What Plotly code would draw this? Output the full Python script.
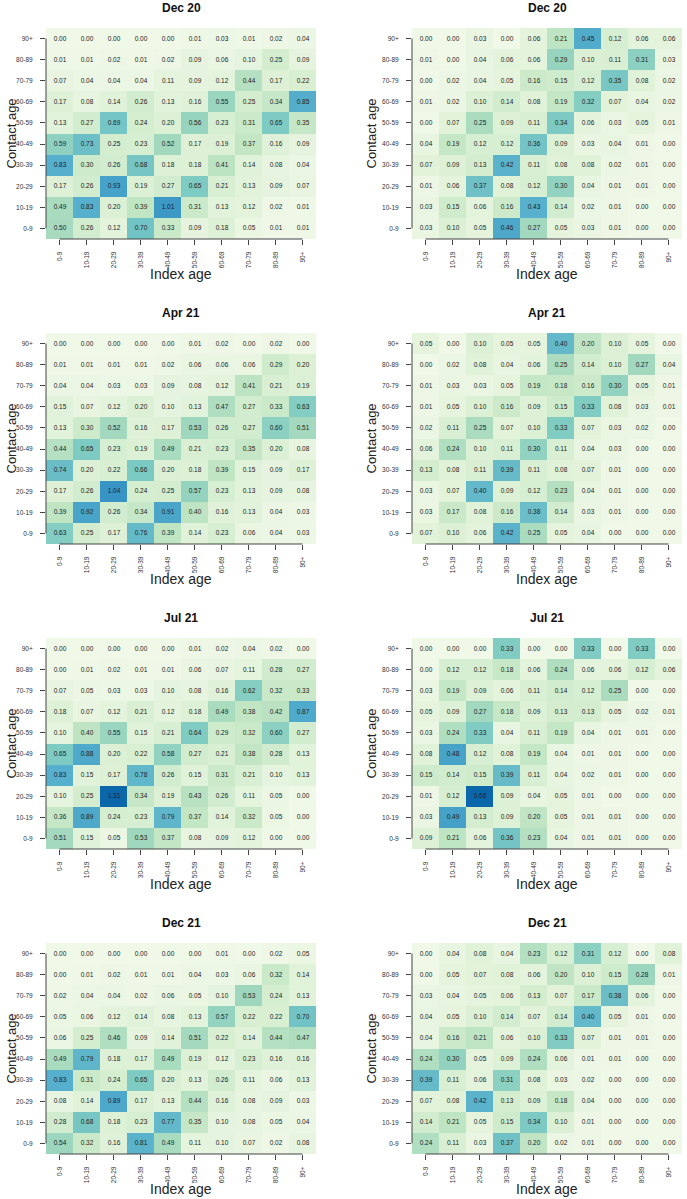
import plotly.graph_objects as go

age_groups = ["0-9", "10-19", "20-29", "30-39", "40-49", "50-59", "60-69", "70-79", "80-89", "90+"]
contact_rows = age_groups[::-1]  # rows below are listed top (90+) to bottom (0-9)
panel_titles = ["Dec 20", "Apr 21", "Jul 21", "Dec 21"]

dec20_left = [
    [0.00, 0.00, 0.00, 0.00, 0.00, 0.01, 0.03, 0.01, 0.02, 0.04],
    [0.01, 0.01, 0.02, 0.01, 0.02, 0.09, 0.06, 0.10, 0.25, 0.09],
    [0.07, 0.04, 0.04, 0.04, 0.11, 0.09, 0.12, 0.44, 0.17, 0.22],
    [0.17, 0.08, 0.14, 0.26, 0.13, 0.16, 0.55, 0.25, 0.34, 0.85],
    [0.13, 0.27, 0.69, 0.24, 0.20, 0.56, 0.23, 0.31, 0.65, 0.35],
    [0.59, 0.73, 0.25, 0.23, 0.52, 0.17, 0.19, 0.37, 0.16, 0.09],
    [0.83, 0.30, 0.26, 0.68, 0.18, 0.18, 0.41, 0.14, 0.08, 0.04],
    [0.17, 0.26, 0.93, 0.19, 0.27, 0.65, 0.21, 0.13, 0.09, 0.07],
    [0.49, 0.83, 0.20, 0.39, 1.01, 0.31, 0.13, 0.12, 0.02, 0.01],
    [0.50, 0.26, 0.12, 0.70, 0.33, 0.09, 0.18, 0.05, 0.01, 0.01],
]
dec20_right = [
    [0.00, 0.00, 0.03, 0.00, 0.06, 0.21, 0.45, 0.12, 0.06, 0.06],
    [0.01, 0.00, 0.04, 0.06, 0.06, 0.29, 0.10, 0.11, 0.31, 0.03],
    [0.00, 0.02, 0.04, 0.05, 0.16, 0.15, 0.12, 0.35, 0.08, 0.02],
    [0.01, 0.02, 0.10, 0.14, 0.08, 0.19, 0.32, 0.07, 0.04, 0.02],
    [0.00, 0.07, 0.25, 0.09, 0.11, 0.34, 0.06, 0.03, 0.05, 0.01],
    [0.04, 0.19, 0.12, 0.12, 0.36, 0.09, 0.03, 0.04, 0.01, 0.00],
    [0.07, 0.09, 0.13, 0.42, 0.11, 0.08, 0.08, 0.02, 0.01, 0.00],
    [0.01, 0.06, 0.37, 0.08, 0.12, 0.30, 0.04, 0.01, 0.01, 0.00],
    [0.03, 0.15, 0.06, 0.16, 0.43, 0.14, 0.02, 0.01, 0.00, 0.00],
    [0.03, 0.10, 0.05, 0.46, 0.27, 0.05, 0.03, 0.01, 0.00, 0.00],
]
apr21_left = [
    [0.00, 0.00, 0.00, 0.00, 0.00, 0.01, 0.02, 0.00, 0.02, 0.00],
    [0.01, 0.01, 0.01, 0.01, 0.02, 0.06, 0.06, 0.06, 0.29, 0.20],
    [0.04, 0.04, 0.03, 0.03, 0.09, 0.08, 0.12, 0.41, 0.21, 0.19],
    [0.15, 0.07, 0.12, 0.20, 0.10, 0.13, 0.47, 0.27, 0.33, 0.63],
    [0.13, 0.30, 0.52, 0.16, 0.17, 0.53, 0.26, 0.27, 0.60, 0.51],
    [0.44, 0.65, 0.23, 0.19, 0.49, 0.21, 0.23, 0.35, 0.20, 0.08],
    [0.74, 0.20, 0.22, 0.66, 0.20, 0.18, 0.39, 0.15, 0.09, 0.17],
    [0.17, 0.26, 1.04, 0.24, 0.25, 0.57, 0.23, 0.13, 0.09, 0.08],
    [0.39, 0.92, 0.26, 0.34, 0.91, 0.40, 0.16, 0.13, 0.04, 0.03],
    [0.63, 0.25, 0.17, 0.76, 0.39, 0.14, 0.23, 0.06, 0.04, 0.03],
]
apr21_right = [
    [0.05, 0.00, 0.10, 0.05, 0.05, 0.40, 0.20, 0.10, 0.05, 0.00],
    [0.00, 0.02, 0.08, 0.04, 0.06, 0.25, 0.14, 0.10, 0.27, 0.04],
    [0.01, 0.03, 0.03, 0.05, 0.19, 0.18, 0.16, 0.30, 0.05, 0.01],
    [0.01, 0.05, 0.10, 0.16, 0.09, 0.15, 0.33, 0.08, 0.03, 0.01],
    [0.02, 0.11, 0.25, 0.07, 0.10, 0.33, 0.07, 0.03, 0.02, 0.00],
    [0.06, 0.24, 0.10, 0.11, 0.30, 0.11, 0.04, 0.03, 0.00, 0.00],
    [0.13, 0.08, 0.11, 0.39, 0.11, 0.08, 0.07, 0.01, 0.00, 0.00],
    [0.03, 0.07, 0.40, 0.09, 0.12, 0.23, 0.04, 0.01, 0.00, 0.00],
    [0.03, 0.17, 0.08, 0.16, 0.38, 0.14, 0.03, 0.01, 0.00, 0.00],
    [0.07, 0.10, 0.06, 0.42, 0.25, 0.05, 0.04, 0.00, 0.00, 0.00],
]
jul21_left = [
    [0.00, 0.00, 0.00, 0.00, 0.00, 0.01, 0.02, 0.04, 0.02, 0.00],
    [0.00, 0.01, 0.02, 0.01, 0.01, 0.06, 0.07, 0.11, 0.28, 0.27],
    [0.07, 0.05, 0.03, 0.03, 0.10, 0.08, 0.16, 0.62, 0.32, 0.33],
    [0.18, 0.07, 0.12, 0.21, 0.12, 0.18, 0.49, 0.38, 0.42, 0.87],
    [0.10, 0.40, 0.55, 0.15, 0.21, 0.64, 0.29, 0.32, 0.60, 0.27],
    [0.65, 0.88, 0.20, 0.22, 0.58, 0.27, 0.21, 0.38, 0.28, 0.13],
    [0.83, 0.15, 0.17, 0.78, 0.26, 0.15, 0.31, 0.21, 0.10, 0.13],
    [0.10, 0.25, 1.31, 0.34, 0.19, 0.43, 0.26, 0.11, 0.05, 0.00],
    [0.36, 0.89, 0.24, 0.23, 0.79, 0.37, 0.14, 0.32, 0.05, 0.00],
    [0.51, 0.15, 0.05, 0.53, 0.37, 0.08, 0.09, 0.12, 0.00, 0.00],
]
jul21_right = [
    [0.00, 0.00, 0.00, 0.33, 0.00, 0.00, 0.33, 0.00, 0.33, 0.00],
    [0.00, 0.12, 0.12, 0.18, 0.06, 0.24, 0.06, 0.06, 0.12, 0.06],
    [0.03, 0.19, 0.09, 0.06, 0.11, 0.14, 0.12, 0.25, 0.00, 0.00],
    [0.05, 0.09, 0.27, 0.18, 0.09, 0.13, 0.13, 0.05, 0.02, 0.01],
    [0.03, 0.24, 0.33, 0.04, 0.11, 0.19, 0.04, 0.01, 0.01, 0.00],
    [0.08, 0.48, 0.12, 0.08, 0.19, 0.04, 0.01, 0.01, 0.00, 0.00],
    [0.15, 0.14, 0.15, 0.39, 0.11, 0.04, 0.02, 0.01, 0.00, 0.00],
    [0.01, 0.12, 0.68, 0.09, 0.04, 0.05, 0.01, 0.00, 0.00, 0.00],
    [0.03, 0.49, 0.13, 0.09, 0.20, 0.05, 0.01, 0.01, 0.00, 0.00],
    [0.09, 0.21, 0.06, 0.36, 0.23, 0.04, 0.01, 0.01, 0.00, 0.00],
]
dec21_left = [
    [0.00, 0.00, 0.00, 0.00, 0.00, 0.00, 0.01, 0.00, 0.02, 0.05],
    [0.00, 0.01, 0.02, 0.01, 0.01, 0.04, 0.03, 0.06, 0.32, 0.14],
    [0.02, 0.04, 0.04, 0.02, 0.06, 0.05, 0.10, 0.53, 0.24, 0.13],
    [0.05, 0.06, 0.12, 0.14, 0.08, 0.13, 0.57, 0.22, 0.22, 0.70],
    [0.06, 0.25, 0.46, 0.09, 0.14, 0.51, 0.22, 0.14, 0.44, 0.47],
    [0.49, 0.79, 0.18, 0.17, 0.49, 0.19, 0.12, 0.23, 0.16, 0.16],
    [0.83, 0.31, 0.24, 0.65, 0.20, 0.13, 0.26, 0.11, 0.06, 0.13],
    [0.08, 0.14, 0.89, 0.17, 0.13, 0.44, 0.16, 0.08, 0.09, 0.03],
    [0.28, 0.68, 0.18, 0.23, 0.77, 0.35, 0.10, 0.08, 0.05, 0.04],
    [0.54, 0.32, 0.16, 0.81, 0.49, 0.11, 0.10, 0.07, 0.02, 0.08],
]
dec21_right = [
    [0.00, 0.04, 0.08, 0.04, 0.23, 0.12, 0.31, 0.12, 0.00, 0.08],
    [0.00, 0.05, 0.07, 0.08, 0.06, 0.20, 0.10, 0.15, 0.28, 0.01],
    [0.03, 0.04, 0.05, 0.06, 0.13, 0.07, 0.17, 0.38, 0.06, 0.00],
    [0.04, 0.05, 0.10, 0.14, 0.07, 0.14, 0.40, 0.05, 0.01, 0.00],
    [0.04, 0.16, 0.21, 0.06, 0.10, 0.33, 0.07, 0.01, 0.01, 0.00],
    [0.24, 0.30, 0.05, 0.09, 0.24, 0.06, 0.01, 0.01, 0.00, 0.00],
    [0.39, 0.11, 0.06, 0.31, 0.08, 0.03, 0.02, 0.00, 0.00, 0.00],
    [0.07, 0.08, 0.42, 0.13, 0.09, 0.18, 0.04, 0.00, 0.00, 0.00],
    [0.14, 0.21, 0.05, 0.15, 0.34, 0.10, 0.01, 0.00, 0.00, 0.00],
    [0.24, 0.11, 0.03, 0.37, 0.20, 0.02, 0.01, 0.00, 0.00, 0.00],
]

left_panels = [dec20_left, apr21_left, jul21_left, dec21_left]
right_panels = [dec20_right, apr21_right, jul21_right, dec21_right]
column_zmax = [1.31, 0.68]

W, H = 687, 1199
FONT = "Liberation Sans, Arial, Helvetica, sans-serif"

colorscale = [
    [0.00, "#f0f8e8"],
    [0.15, "#dbf0d4"],
    [0.30, "#c0e5c3"],
    [0.40, "#a1d8be"],
    [0.50, "#7ccac3"],
    [0.63, "#57b0cc"],
    [0.70, "#49a4c9"],
    [0.80, "#3693c4"],
    [1.00, "#0b67aa"],
]

col_x = [(46, 316), (412, 682)]
row_top = [28, 333, 638, 943]
panel_h = 211


def px(x):
    return x / W


def py(y):
    return 1 - y / H


fig = go.Figure()
annotations = []
shapes = []
idx = 0
for r in range(4):
    for c in range(2):
        idx += 1
        xa = "x" if idx == 1 else f"x{idx}"
        ya = "y" if idx == 1 else f"y{idx}"
        data = left_panels[r] if c == 0 else right_panels[r]
        z_bottom_up = data[::-1]  # row order now 0-9 ... 90+
        fig.add_trace(go.Heatmap(
            z=z_bottom_up, x=age_groups, y=age_groups,
            xaxis=xa, yaxis=ya,
            zmin=0, zmax=column_zmax[c],
            colorscale=colorscale, showscale=False,
            texttemplate="%{z:.2f}",
            textfont=dict(size=6.5, color="#222222", family=FONT),
            hoverinfo="skip", xgap=0, ygap=0,
        ))
        x0, x1 = col_x[c]
        top = row_top[r]
        bot = top + panel_h
        axis_common = dict(
            type="category", ticks="outside", ticklen=5, tickwidth=1,
            tickcolor="#444444", showline=False, showgrid=False, zeroline=False,
            tickfont=dict(size=6.5, color="#333333", family=FONT),
            ticklabelstandoff=4, fixedrange=True, automargin=False,
        )
        fig.update_layout({
            ("xaxis" if idx == 1 else f"xaxis{idx}"): dict(
                axis_common, domain=[px(x0), px(x1)], anchor=ya,
                tickangle=-90, range=[-0.5, 9.5],
            ),
            ("yaxis" if idx == 1 else f"yaxis{idx}"): dict(
                axis_common, domain=[py(bot), py(top)], anchor=xa,
                range=[-0.5, 9.5],
                tickfont=dict(size=6.5, color="#333333", family=FONT),
                ticklabelstandoff=6,
            ),
        })
        # R-style axis lines spanning first to last tick
        shapes.append(dict(type="line", xref=xa, yref=f"{ya} domain",
                           x0=0, x1=9, y0=0, y1=0,
                           line=dict(color="#444444", width=1)))
        shapes.append(dict(type="line", xref=f"{xa} domain", yref=ya,
                           x0=0, x1=0, y0=0, y1=9,
                           line=dict(color="#444444", width=1)))
        cx = (x0 + x1) / 2
        annotations.append(dict(text="<b>" + panel_titles[r] + "</b>", x=px(cx), y=py(top - 20),
                                xref="paper", yref="paper", showarrow=False,
                                xanchor="center", yanchor="middle",
                                font=dict(size=12, color="#111111", family=FONT)))
        annotations.append(dict(text="Index age", x=px(cx), y=py(bot + 35),
                                xref="paper", yref="paper", showarrow=False,
                                xanchor="center", yanchor="middle",
                                font=dict(size=14, color="#222222", family=FONT)))
        annotations.append(dict(text="Contact age", x=px(11 if c == 0 else 371),
                                y=py((top + bot) / 2),
                                xref="paper", yref="paper", showarrow=False,
                                xanchor="center", yanchor="middle", textangle=-90,
                                font=dict(size=13, color="#222222", family=FONT)))

fig.update_layout(
    width=W, height=H,
    margin=dict(l=0, r=0, t=0, b=0),
    paper_bgcolor="white", plot_bgcolor="white",
    annotations=annotations, shapes=shapes,
    showlegend=False,
)

fig.write_html(
    "out.html",
    config={"displayModeBar": False},
    post_script="document.body.style.margin='0';document.body.style.overflow='hidden';",
)
